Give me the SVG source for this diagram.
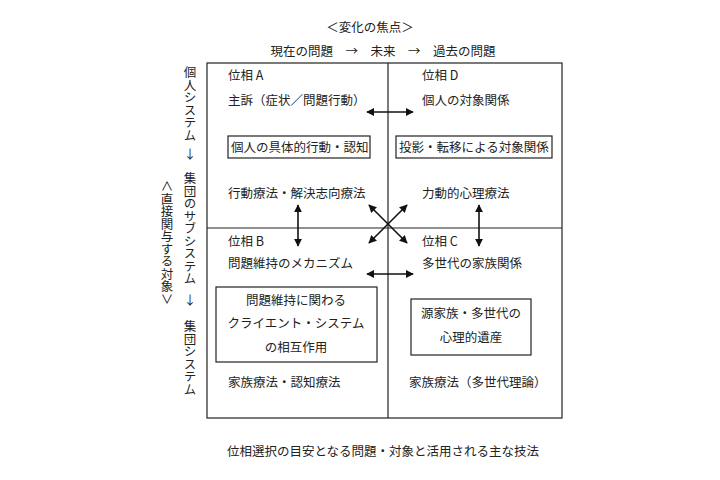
<svg xmlns="http://www.w3.org/2000/svg" width="720" height="480" viewBox="0 0 720 480">
<style>
text{font-family:"Noto Sans CJK JP",sans-serif;font-size:12.5px;fill:#222}
.v{writing-mode:vertical-rl;text-orientation:upright}
.b{fill:none;stroke:#222;stroke-width:1.2}
.c{stroke:#111;stroke-width:1.6;fill:none;marker-start:url(#a);marker-end:url(#a)}
</style>
<defs><marker id="a" viewBox="0 0 10 10" refX="9" refY="5" markerWidth="5" markerHeight="5" orient="auto-start-reverse"><path d="M0,0L10,5L0,10z" fill="#111"/></marker></defs>
<rect width="720" height="480" fill="#fff"/>
<text x="370" y="32" text-anchor="middle">＜変化の焦点＞</text>
<text x="383" y="56" text-anchor="middle" xml:space="preserve">現在の問題　→　未来　→　過去の問題</text>
<text class="v" x="190" y="66">個人システム</text>
<text class="v" x="190" y="148">↓</text>
<text class="v" x="190" y="172">集団のサブシステム</text>
<text class="v" x="190" y="294">↓</text>
<text class="v" x="190" y="320">集団システム</text>
<text class="v" x="167" y="180">∧直接関与する対象∨</text>
<g id="frame"><rect class="b" x="207" y="63" width="355" height="355"/><line class="b" x1="388" y1="63" x2="388" y2="418"/><line class="b" x1="207" y1="228" x2="562" y2="228"/></g>
<g id="A"><text x="228" y="80">位相 A</text><text x="228" y="105">主訴（症状／問題行動）</text><rect class="b" x="228" y="136" width="142" height="22"/><text x="231" y="152">個人の具体的行動・認知</text><text x="228" y="198">行動療法・解決志向療法</text></g>
<g id="D"><text x="422" y="80">位相 D</text><text x="422" y="105">個人の対象関係</text><rect class="b" x="396" y="136" width="156" height="22"/><text x="399" y="152">投影・転移による対象関係</text><text x="422" y="198">力動的心理療法</text></g>
<g id="B"><text x="228" y="246">位相 B</text><text x="228" y="268">問題維持のメカニズム</text><rect class="b" x="216" y="287" width="161" height="75"/><text x="296" y="305" text-anchor="middle">問題維持に関わる</text><text x="296" y="328" text-anchor="middle">クライエント・システム</text><text x="296" y="352" text-anchor="middle">の相互作用</text><text x="228" y="387">家族療法・認知療法</text></g>
<g id="C"><text x="422" y="246">位相 C</text><text x="422" y="268">多世代の家族関係</text><rect class="b" x="411" y="299" width="120" height="56"/><text x="471" y="318" text-anchor="middle">源家族・多世代の</text><text x="471" y="342" text-anchor="middle">心理的遺産</text><text x="409" y="387">家族療法（多世代理論）</text></g>
<g id="connectors">
<line class="c" x1="367" y1="112" x2="413" y2="112"/>
<line class="c" x1="367" y1="274" x2="413" y2="274"/>
<line class="c" x1="298" y1="205" x2="298" y2="246"/>
<line class="c" x1="479" y1="205" x2="479" y2="246"/>
<line class="c" x1="369" y1="243" x2="407" y2="205"/>
<line class="c" x1="369" y1="205" x2="407" y2="243"/>
</g>
<text x="383" y="456" text-anchor="middle">位相選択の目安となる問題・対象と活用される主な技法</text>
</svg>
